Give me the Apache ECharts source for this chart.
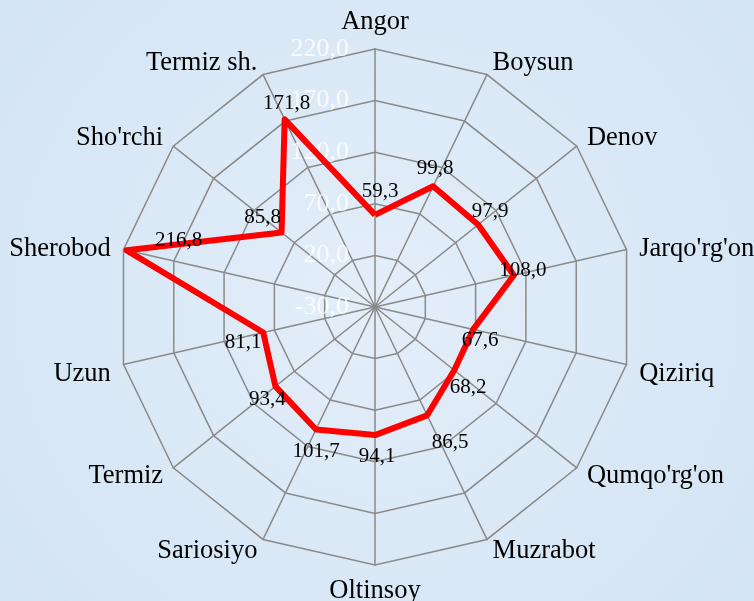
<!DOCTYPE html>
<html><head><meta charset="utf-8">
<script src="https://cdn.jsdelivr.net/npm/echarts@6/dist/echarts.min.js"></script>
<style>html,body{margin:0;padding:0;background:#dae8f5;}#c{width:754px;height:601px;}</style>
</head><body><div id="c"></div>
<script>
const categories = ["Angor","Boysun","Denov","Jarqo'rg'on","Qiziriq","Qumqo'rg'on","Muzrabot","Oltinsoy","Sariosiyo","Termiz","Uzun","Sherobod","Sho'rchi","Termiz sh."];
const values = [59.3, 99.8, 97.9, 108.0, 67.6, 68.2, 86.5, 94.1, 101.7, 93.4, 81.1, 216.8, 85.8, 171.8];
const axisMin = -30, axisMax = 220;
const fmt = v => Number(v).toFixed(1).replace('.', ',');

// label placement (pixel offsets from each vertex), same order as categories
const labelOffsets = [[5,-23],[2,-18],[12,-13],[9,-5],[7,11],[14,17],[23,27],[2,21],[0,22],[-8,13],[-20,10],[52,-10],[-19,-15],[2,-16]];
// rich-text style class of each axis name, same order as categories
const nameClass = ['n','up','up','mida','midb','n','n','n','n','n','midb','mida','up','up'];

// ECharts radar runs counter-clockwise; reorder so the categories go clockwise from the top
const order = [0].concat(categories.map((_, i) => i).slice(1).reverse());
const cats = order.map(i => categories[i]);
const vals = order.map(i => values[i]);

const labelFont = {color: '#000', fontSize: 21, fontFamily: 'Liberation Serif'};
const labelSeries = order.map((origIdx, dim) => ({
  type: 'radar',
  silent: true,
  z: 3,
  symbol: 'circle',
  symbolSize: 1,
  itemStyle: {color: 'rgba(0,0,0,0)'},
  lineStyle: {opacity: 0, width: 0},
  label: Object.assign({
    show: true, position: 'inside', offset: labelOffsets[origIdx],
    formatter: p => (p.dimensionIndex === dim ? fmt(p.value) : '')
  }, labelFont),
  data: [{value: vals}]
}));

const nameBase = {color: '#000', fontSize: 26.5, fontFamily: 'Liberation Serif', lineHeight: 27};
const chart = echarts.init(document.getElementById('c'));
chart.setOption({
  animation: false,
  backgroundColor: {
    type: 'radial', x: 0.5, y: 0.5, r: 0.8,
    colorStops: [{offset: 0, color: '#e3eef9'}, {offset: 1, color: '#d3e4f4'}]
  },
  textStyle: {fontFamily: 'Liberation Serif'},
  radar: {
    center: [375, 307],
    radius: 258,
    startAngle: 90,
    shape: 'polygon',
    splitNumber: 5,
    nameGap: 13,
    axisName: Object.assign({
      formatter: name => '{' + nameClass[categories.indexOf(name)] + '|' + name + '}',
      rich: {
        n: Object.assign({}, nameBase),
        up: Object.assign({}, nameBase, {lineHeight: 20}),
        mida: Object.assign({}, nameBase, {padding: [5, 0, 0, 0]}),
        midb: Object.assign({}, nameBase, {padding: [13, 0, 0, 0]})
      }
    }, nameBase),
    splitLine: {lineStyle: {color: '#8a8a8a', width: 1.5}},
    splitArea: {show: false},
    axisLine: {lineStyle: {color: '#8a8a8a', width: 1.5}},
    axisTick: {show: false},
    axisLabel: {show: false},
    indicator: cats.map((c, i) => {
      const o = {name: c, min: axisMin, max: axisMax};
      if (i === 0) o.axisLabel = {show: true, color: 'rgba(255,255,255,0.8)', fontSize: 26, fontFamily: 'Liberation Serif', formatter: fmt, margin: 26};
      return o;
    })
  },
  series: [{
    type: 'radar',
    silent: true,
    z: 2,
    symbol: 'none',
    lineStyle: {color: '#ff0000', width: 6},
    data: [{value: vals}]
  }].concat(labelSeries)
});
</script></body></html>
